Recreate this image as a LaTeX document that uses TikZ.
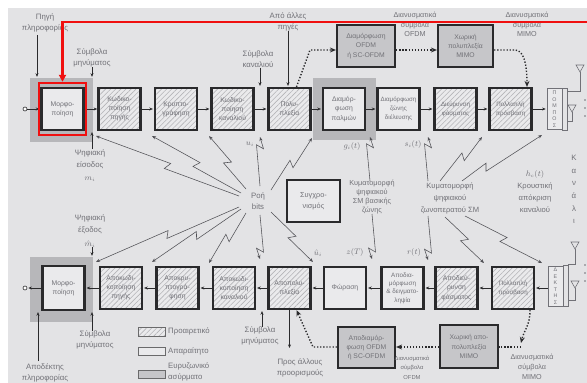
\documentclass[tikz,border=0pt]{standalone}
\usepackage{fontspec}
\setmainfont{Liberation Sans}
\usetikzlibrary{arrows.meta,patterns.meta,calc}
\definecolor{bgc}{HTML}{E3E3E5}
\definecolor{boxf}{HTML}{EAEAEC}
\definecolor{txt}{HTML}{717177}
\definecolor{brd}{HTML}{2A2A2C}
\definecolor{wide}{HTML}{C6C6C9}
\definecolor{frm}{HTML}{B7B7BA}
\definecolor{hatch}{HTML}{B4B4B8}
\definecolor{redc}{HTML}{F01010}
\definecolor{boltc}{HTML}{505055}
\begin{document}
\begin{tikzpicture}[x=1pt,y=-1pt,
 lbl/.style={text=txt,font=\fontsize{7.8}{11}\selectfont,align=center,inner sep=0pt},
 bt/.style={text=txt,font=\fontsize{6.8}{9.2}\selectfont,align=center},
 smallbt/.style={font=\fontsize{6.2}{9.2}\selectfont},
 plainbox/.style={draw=brd,line width=2.2pt,fill=boxf,bt,inner sep=0pt,minimum width=42pt,minimum height=42pt},
 hatchbox/.style={plainbox,preaction={fill=boxf},pattern={Lines[angle=45,distance=3.6pt,line width=0.6pt]},pattern color=hatch},
 widebox/.style={plainbox,fill=wide},
 grayframe/.style={fill=frm,inner sep=0pt},
 conn/.style={draw=brd,line width=0.6pt,shorten >=1pt,-{Stealth[length=3.6pt,width=3pt]}},
 dotarr/.style={draw=brd,line width=1.4pt,dash pattern=on 1.3pt off 1.8pt,-{Stealth[length=6pt,width=5pt]}},
 dotln/.style={draw=brd,line width=1.4pt,dash pattern=on 1.3pt off 1.8pt},
 bolt/.style={to path={-- ($(\tikztostart)!#1!(\tikztotarget)!2pt!(\tikztotarget)!3.5pt!90:(\tikztotarget)$) -- ($(\tikztostart)!#1!(\tikztotarget)!-2pt!(\tikztotarget)!3.5pt!-90:(\tikztotarget)$) -- (\tikztotarget)}},
 boltarr/.style={draw=boltc,line width=0.55pt,-{Stealth[length=4pt,width=3.2pt]}},
 ant/.style={draw=txt,line width=0.6pt},
 vbox/.style={draw=txt,line width=0.6pt,fill=boxf,minimum width=15pt,inner sep=0pt},
 vtxt/.style={text=txt,font=\fontsize{5.3}{6.5}\selectfont,align=center,inner sep=0pt},
 legbox/.style={draw=brd!70,line width=0.5pt,minimum width=27pt,minimum height=8.5pt,inner sep=0pt}
]
\fill[white] (0,0) rectangle (587,383);
\fill[bgc] (8,8) rectangle (587,383);
\useasboundingbox (0,0) rectangle (587,383);

% gray frames
\node[grayframe,minimum width=63pt,minimum height=64pt] (fr1) at (61.5,110) {};
\node[grayframe,minimum width=63pt,minimum height=62pt] (fr2) at (344.5,109) {};
\node[grayframe,minimum width=63pt,minimum height=65pt] (fr3) at (61.5,289.5) {};

% top row
\node[plainbox] (morf) at (62.5,109) {Μορφο-\\ποίηση};
\node[hatchbox] (kp) at (119.5,109) {Κωδικο-\\ποίηση\\πηγής};
\node[hatchbox] (kr) at (176,109) {Κρυπτο-\\γράφηση};
\node[hatchbox] (kk) at (232.5,109) {Κωδικο-\\ποίηση\\καναλιού};
\node[hatchbox] (pol) at (289.5,109) {Πολυ-\\πλεξία};
\node[plainbox] (dp) at (344,109) {Διαμόρ-\\φωση\\παλμών};
\node[plainbox,smallbt] (dzd) at (398.5,109) {Διαμόρφωση\\ζώνης\\διέλευσης};
\node[hatchbox,smallbt] (df) at (455.5,109) {Διεύρυνση\\φάσματος};
\node[hatchbox,smallbt] (pp) at (510.5,109) {Πολλαπλή\\πρόσβαση};
\node[vbox,minimum height=41pt] (pompos) at (554.5,109) {};
\node[vtxt] (pomposT) at (pompos.center) {Π\\Ο\\Μ\\Π\\Ο\\Σ};
\node[circle,draw=brd,line width=0.6pt,fill=white,minimum size=4pt,inner sep=0pt] (src0) at (25,109) {};

% transmitter antennas
\draw[ant] (pompos.north east) -- ++(5,0) -- ([xshift=5pt]pompos.south east) -- (pompos.south east);
\draw[ant] (567,91) -- (580,91) -- (580,72);
\draw[ant] (576,65) -- (584,65) -- (580,72) -- cycle;
\draw[ant] (567,121) -- (572,121) -- (572,112);
\draw[ant] (568,105) -- (576,105) -- (572,112) -- cycle;
\foreach \yy in {100,108,116} \fill[txt] (585,\yy) circle (0.8pt);

% bottom row
\node[plainbox,minimum height=44pt] (morf2) at (63.5,288) {Μορφο-\\ποίηση};
\node[hatchbox] (akp) at (121,288) {Αποκωδι-\\κοποίηση\\πηγής};
\node[hatchbox] (akr) at (177.5,288) {Αποκρυ-\\πτογρά-\\φηση};
\node[hatchbox] (akk) at (234,288) {Αποκωδι-\\κοποίηση\\καναλιού};
\node[hatchbox] (apol) at (289.5,288) {Αποπολυ-\\πλεξία};
\node[plainbox] (fwr) at (345,288) {Φώραση};
\node[plainbox,font=\fontsize{6.3}{8.4}\selectfont] (adg) at (402.5,288) {Αποδια-\\μόρφωση\\\& δειγματο-\\ληψία};
\node[hatchbox] (adf) at (456.5,288) {Αποδιεύ-\\ρυνση\\φάσματος};
\node[hatchbox,smallbt] (pp2) at (513,288) {Πολλαπλή\\πρόσβαση};
\node[vbox,minimum height=40pt] (dek) at (555.5,286) {};
\node[vtxt] (dekT) at (dek.center) {Δ\\Ε\\Κ\\Τ\\Η\\Σ};
\node[circle,draw=brd,line width=0.6pt,fill=white,minimum size=4pt,inner sep=0pt] (snk0) at (25,288) {};

% receiver antennas
\draw[ant] (dek.north east) -- ++(5,0) -- ([xshift=5pt]dek.south east) -- (dek.south east);
\draw[ant] (568,264) -- (575,264) -- (575,249);
\draw[ant] (571,242) -- (579,242) -- (575,249) -- cycle;
\draw[ant] (568,300) -- (575,300) -- (575,288);
\draw[ant] (571,281) -- (579,281) -- (575,288) -- cycle;
\foreach \yy in {265,273,281} \fill[txt] (585,\yy) circle (0.8pt);

% wideband boxes and sync
\node[widebox,minimum width=58pt] (ofdm) at (366,46) {Διαμόρφωση\\OFDM\\ή SC-OFDM};
\node[widebox,minimum width=55pt] (mimo) at (465.5,46) {Χωρική\\πολυπλεξία\\MIMO};
\node[widebox,minimum width=57pt,minimum height=41pt] (ofdm2) at (366.5,347.5) {Αποδιαμόρ-\\φωση OFDM\\ή SC-OFDM};
\node[widebox,minimum width=58pt,minimum height=43pt] (mimo2) at (469,346.5) {Χωρική απο-\\πολυπλεξία\\MIMO};
\node[plainbox,minimum width=53pt,font=\fontsize{7.3}{11}\selectfont] (sync) at (313.5,201) {Συγχρο-\\νισμός};

% row connectors
\draw[conn] (src0) -- (morf);
\foreach \a/\b in {morf/kp,kp/kr,kr/kk,kk/pol,pol/dp,dp/dzd,dzd/df,df/pp,pp/pompos}
  \draw[conn] (\a) -- (\b);
\foreach \a/\b in {dek/pp2,pp2/adf,adf/adg,adg/fwr,fwr/apol,apol/akk,akk/akr,akr/akp,akp/morf2,morf2/snk0}
  \draw[conn] (\a.west |- 0,288) -- (\b.east |- 0,288);

% top labels
\node[lbl] (srcl) at (45,22.5) {Πηγή\\πληροφορίας};
\coordinate (srcA) at (37,35);
\draw[conn] (srcA) -- (srcA |- fr1.north);
\node[lbl] (msym1) at (92,58) {Σύμβολα\\μηνύματος};
\draw[conn] (msym1.south) -- (msym1.south |- fr1.north);
\node[lbl] (oth) at (288,21.5) {Από άλλες\\πηγές};
\draw[conn] (oth.south) -- (oth.south |- pol.north);
\node[lbl] (chs) at (258,59) {Σύμβολα\\καναλιού};
\draw[conn] ([xshift=2pt]chs.south) -- ([xshift=2pt]chs.south |- kk.north);
\node[lbl,font=\fontsize{7.2}{9.5}\selectfont] (vo1) at (415,24.5) {Διανυσματικά\\σύμβολα\\OFDM};
\node[lbl,font=\fontsize{7.2}{9.5}\selectfont] (vm1) at (527,24.5) {Διανυσματικά\\σύμβολα\\MIMO};

% top dotted arrows
\coordinate (dA) at (310,50);
\draw[dotarr] ([xshift=7pt]pol.north) -- (dA) -- (dA -| ofdm.west);
\draw[dotarr] (ofdm.east |- dA) -- (mimo.west |- dA);
\coordinate (dB) at (515,50);
\draw[dotarr] (mimo.east |- dA) -- (dB) .. controls (523,50) and (527,62) .. ([xshift=16.5pt]pp.north);

% middle labels
\node[lbl,font=\fontsize{7.8}{12}\selectfont] (din) at (90,159) {Ψηφιακή\\είσοδος};
\node[lbl] (dinm) at (90,179) {$m_i$};
\draw[conn] ([xshift=2pt]din.north) -- ([xshift=2pt]din.north |- morf.south);
\node[lbl,font=\fontsize{7.8}{12}\selectfont] (dout) at (90,224) {Ψηφιακή\\έξοδος};
\node[lbl] (doutm) at (90,244) {$\hat{m}_i$};
\draw[conn] ([xshift=2pt]doutm.south) -- ([xshift=2pt]doutm.south |- fr3.north);
\node[lbl] (rb) at (258,201) {Ροή\\bits};
\node[lbl] (ul) at (250,144) {$u_i$};
\node[lbl] (gl) at (352,146) {$g_i(t)$};
\node[lbl] (sl) at (413,144) {$s_i(t)$};
\node[lbl] (uhl) at (318,253) {$\hat{u}_i$};
\node[lbl] (zl) at (355,252) {$z(T)$};
\node[lbl] (rl) at (414,252) {$r(t)$};
\node[lbl,font=\fontsize{7.3}{8.9}\selectfont] (kbb) at (372,197) {Κυματομορφή\\ψηφιακού\\ΣΜ βασικής\\ζώνης};
\node[lbl,font=\fontsize{7.6}{12}\selectfont] (kbp) at (450,198) {Κυματομορφή\\ψηφιακού\\ζωνοπερατού ΣΜ};
\node[lbl,font=\fontsize{7.6}{12.3}\selectfont] (hc) at (535,191.5) {$h_c(t)$\\Κρουστική\\απόκριση\\καναλιού};
\node[lbl,font=\fontsize{7.8}{12.6}\selectfont] (kan) at (574,189.5) {Κ\\α\\ν\\ά\\λ\\ι};

% lightning arrows from bit stream
\coordinate (f1s) at (239,196); \coordinate (f1e) at (96,136);
\coordinate (f2s) at (241,193); \coordinate (f2e) at (152,136);
\coordinate (f3s) at (246,189); \coordinate (f3e) at (209,136);
\coordinate (f4s) at (260,186); \coordinate (f4e) at (260,137);
\coordinate (f5s) at (271,190); \coordinate (f5e) at (312,138);
\coordinate (g1s) at (239,207); \coordinate (g1e) at (96,262);
\coordinate (g2s) at (241,209); \coordinate (g2e) at (152,262);
\coordinate (g3s) at (246,213); \coordinate (g3e) at (209,263);
\coordinate (g4s) at (260,215); \coordinate (g4e) at (260,259);
\coordinate (g5s) at (271,212); \coordinate (g5e) at (313,262);
\draw[boltarr] (f1s) to[bolt=0.5] (f1e);
\draw[boltarr] (f2s) to[bolt=0.5] (f2e);
\draw[boltarr] (f3s) to[bolt=0.5] (f3e);
\draw[boltarr] (f4s) to[bolt=0.8] (f4e);
\draw[boltarr] (f5s) to[bolt=0.5] (f5e);
\draw[boltarr] (g1s) to[bolt=0.5] (g1e);
\draw[boltarr] (g2s) to[bolt=0.5] (g2e);
\draw[boltarr] (g3s) to[bolt=0.5] (g3e);
\draw[boltarr] (g4s) to[bolt=0.8] (g4e);
\draw[boltarr] (g5s) to[bolt=0.5] (g5e);
% baseband and bandpass waveforms
\coordinate (h1s) at (370,181); \coordinate (h1e) at (370,137);
\coordinate (h2s) at (372,214); \coordinate (h2e) at (372,259);
\coordinate (k1s) at (428,181); \coordinate (k1e) at (428,137);
\coordinate (k2s) at (428,216); \coordinate (k2e) at (428,260);
\coordinate (k3s) at (440,181); \coordinate (k3e) at (482,137);
\coordinate (k4s) at (462,181); \coordinate (k4e) at (542,135);
\coordinate (k5s) at (445,217); \coordinate (k5e) at (484,263);
\coordinate (k6s) at (465,216); \coordinate (k6e) at (542,263);
\draw[boltarr] (h1s) to[bolt=0.8] (h1e);
\draw[boltarr] (h2s) to[bolt=0.8] (h2e);
\draw[boltarr] (k1s) to[bolt=0.8] (k1e);
\draw[boltarr] (k2s) to[bolt=0.8] (k2e);
\draw[boltarr] (k3s) to[bolt=0.55] (k3e);
\draw[boltarr] (k4s) to[bolt=0.3] (k4e);
\draw[boltarr] (k5s) to[bolt=0.5] (k5e);
\draw[boltarr] (k6s) to[bolt=0.5] (k6e);

% bottom labels
\node[lbl] (msym2) at (95,340) {Σύμβολα\\μηνύματος};
\draw[conn] ([xshift=-3pt]msym2.north) -- ([xshift=-3pt]msym2.north |- morf2.south);
\node[lbl] (sink) at (45,372.5) {Αποδέκτης\\πληροφορίας};
\coordinate (sinkA) at (38,361);
\draw[conn] (sinkA) -- (sinkA |- morf2.south);
\node[lbl] (msym3) at (260,336) {Σύμβολα\\μηνύματος};
\draw[conn] ([xshift=2pt]msym3.north) -- ([xshift=2pt]msym3.north |- akk.south);
\node[lbl] (oth2) at (300,367.5) {Προς άλλους\\προορισμούς};
\coordinate (oth2A) at (289.5,349);
\draw[conn] (apol.south) -- (oth2A);
\node[lbl,font=\fontsize{5.8}{9.5}\selectfont] (vo2) at (412,367.5) {Διανυσματικά\\σύμβολα\\OFDM};
\node[lbl,font=\fontsize{7.2}{10}\selectfont] (vm2) at (532,367) {Διανυσματικά\\σύμβολα\\MIMO};

% bottom dotted arrows
\coordinate (dD) at (521,343);
\draw[dotarr] ([xshift=17pt]pp2.south) .. controls (530,326) and (524,330) .. (dD);
\coordinate (dE) at (521,347);
\draw[dotln] (dE) -- (dE -| mimo2.east);
\draw[dotarr] (mimo2.west |- dE) -- (ofdm2.east |- dE);
\coordinate (dF) at (313,347);
\draw[dotarr] (ofdm2.west |- dE) -- (dF) -- ([xshift=7pt]apol.south);

% legend
\node[legbox,preaction={fill=boxf},pattern={Lines[angle=45,distance=3.6pt,line width=0.6pt]},pattern color=hatch] (lg1) at (151.5,331.5) {};
\node[lbl,anchor=west] (lg1t) at (168,331.5) {Προαιρετικό};
\node[legbox,fill=boxf] (lg2) at (151.5,351) {};
\node[lbl,anchor=west] (lg2t) at (168,351) {Απαραίτητο};
\node[legbox,fill=wide] (lg3) at (151.5,374) {};
\node[lbl,anchor=west,align=left] (lg3t) at (168,371.5) {Ευρυζωνικό\\ασύρματο};

% red highlight
\node[draw=redc,line width=2.4pt,minimum width=47pt,minimum height=52pt,inner sep=0pt] (redbox) at (62.5,109) {};
\coordinate (redS) at (587,22);
\draw[redc,line width=2.4pt,-{Triangle[length=7pt,width=7pt]}] (redS) -| (redbox.north);
\end{tikzpicture}
\end{document}
